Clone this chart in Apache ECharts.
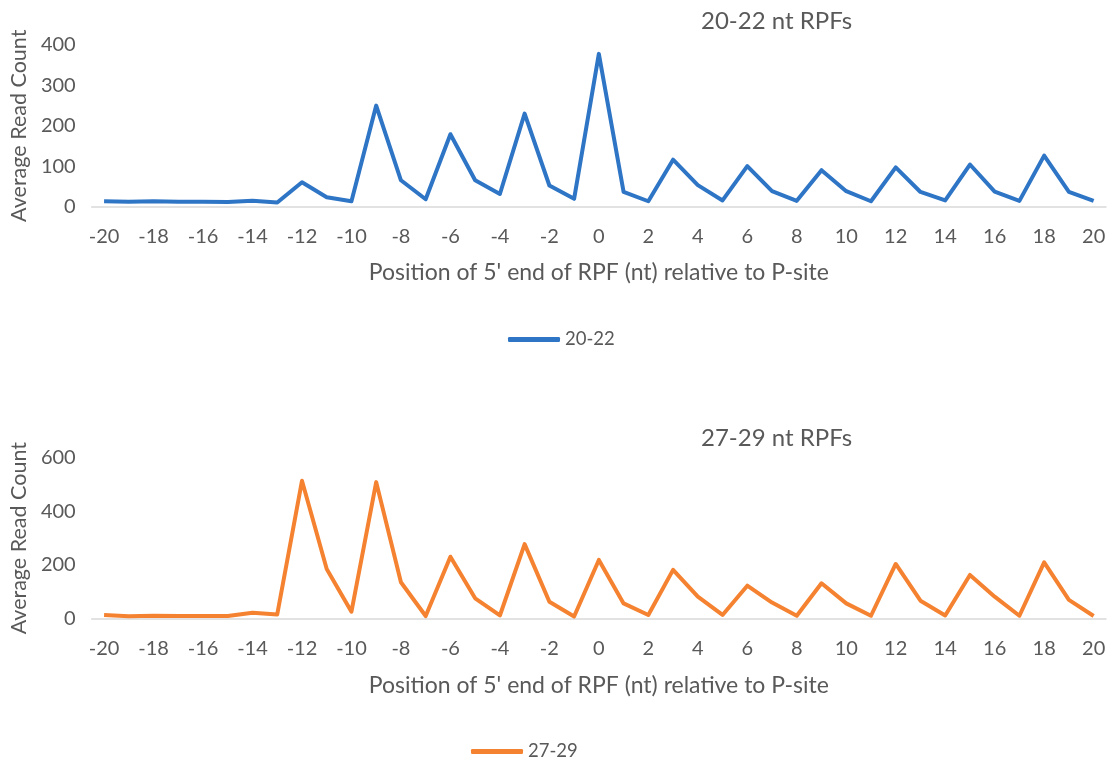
<!DOCTYPE html>
<html><head><meta charset="utf-8">
<script src="https://cdn.jsdelivr.net/npm/echarts@6/dist/echarts.min.js"></script>
<style>html,body{margin:0;padding:0;background:#fff}#c{width:1113px;height:765px}</style>
</head><body><div id="c"></div>
<script>
const positions = [-20,-19,-18,-17,-16,-15,-14,-13,-12,-11,-10,-9,-8,-7,-6,-5,-4,-3,-2,-1,0,1,2,3,4,5,6,7,8,9,10,11,12,13,14,15,16,17,18,19,20];
const rpf2022 = [13,12,13,12,12,11,14,10,60,23,13,250,65,18,179,65,31,230,52,19,378,36,13,116,53,15,100,38,14,90,38,13,97,36,15,104,37,14,126,36,14];
const rpf2729 = [14,9,11,10,10,10,22,16,514,185,26,509,136,10,231,76,12,278,63,8,219,57,14,182,82,14,123,60,11,132,57,11,204,67,12,163,82,11,210,70,10];
const yTicksTop = {min:0, max:400, interval:100};
const yTicksBottom = {min:0, max:600, interval:200};

const FONT = 'Lato, "Open Sans", sans-serif';
const TXT = '#595959';
const chart = echarts.init(document.getElementById('c'));

function xAxis(gi){
  return {type:'category', gridIndex:gi, data:positions, boundaryGap:true,
    axisLine:{lineStyle:{color:'#d9d9d9', width:1.5}},
    axisTick:{show:false},
    axisLabel:{interval:1, color:TXT, fontSize:20, fontFamily:FONT, margin:20},
    name:"Position of 5' end of RPF (nt) relative to P-site", nameLocation:'middle', nameGap:55,
    nameTextStyle:{color:TXT, fontSize:23, fontFamily:FONT}};
}
function yAxis(gi, t){
  return {type:'value', gridIndex:gi, min:t.min, max:t.max, interval:t.interval,
    axisLine:{show:false}, axisTick:{show:false}, splitLine:{show:false},
    axisLabel:{color:TXT, fontSize:20, fontFamily:FONT, margin:16},
    name:'Average Read Count', nameLocation:'middle', nameGap:61,
    nameTextStyle:{color:TXT, fontSize:21.5, fontFamily:FONT}};
}
chart.setOption({
  animation:false,
  title:[
    {text:'20-22 nt RPFs', left:696, top:4, textStyle:{color:TXT, fontSize:24, fontWeight:'normal', fontFamily:FONT}},
    {text:'27-29 nt RPFs', left:696, top:421, textStyle:{color:TXT, fontSize:24, fontWeight:'normal', fontFamily:FONT}}
  ],
  legend:[
    {data:['20-22'], left:503, top:325, icon:'roundRect', itemWidth:52, itemHeight:5, itemGap:4,
      textStyle:{color:TXT, fontSize:18.5, fontFamily:FONT}},
    {data:['27-29'], left:466, top:737, icon:'roundRect', itemWidth:52, itemHeight:5, itemGap:4,
      textStyle:{color:TXT, fontSize:18.5, fontFamily:FONT}}
  ],
  grid:[
    {left:91, right:7, top:45, height:161.5},
    {left:91, right:7, top:457.7, height:161}
  ],
  xAxis:[xAxis(0), xAxis(1)],
  yAxis:[yAxis(0, yTicksTop), yAxis(1, yTicksBottom)],
  series:[
    {name:'20-22', type:'line', xAxisIndex:0, yAxisIndex:0, data:rpf2022, symbol:'none',
      lineStyle:{color:'#2E75C6', width:4, join:'round'}, itemStyle:{color:'#2E75C6'}},
    {name:'27-29', type:'line', xAxisIndex:1, yAxisIndex:1, data:rpf2729, symbol:'none',
      lineStyle:{color:'#F58230', width:4, join:'round'}, itemStyle:{color:'#F58230'}}
  ]
});
</script></body></html>
